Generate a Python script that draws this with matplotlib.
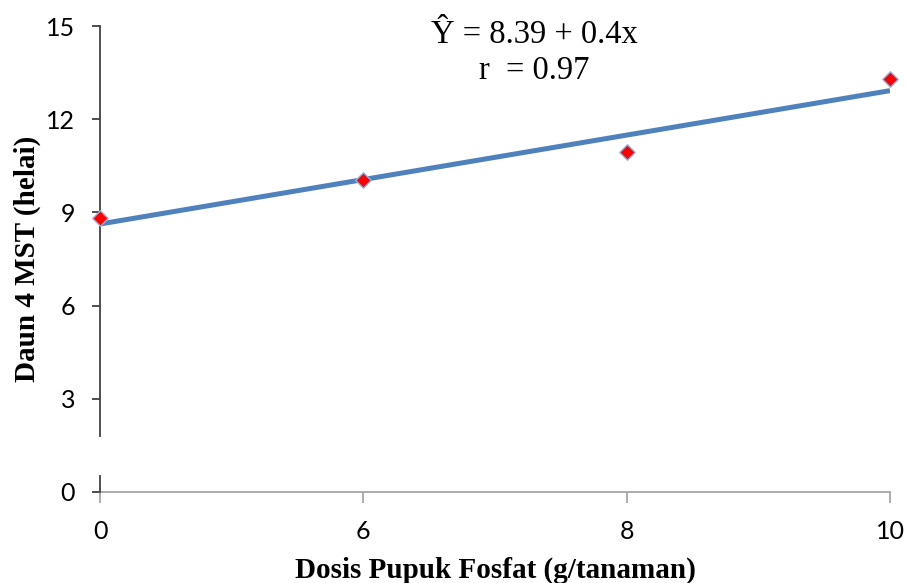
import numpy as np
import matplotlib
matplotlib.use("Agg")
import matplotlib.pyplot as plt

doses = ["0", "6", "8", "10"]
leaves = [8.82, 10.04, 10.94, 13.29]
y_ticks = [0, 3, 6, 9, 12, 15]
eq_text = "Ŷ = 8.39 + 0.4x"
r_text = "r  = 0.97"
break_low, break_high = 0.5, 1.8

fig = plt.figure(figsize=(9.06, 5.83), dpi=100)
ax = fig.add_axes([0.1104, 0.1561, 0.8719, 0.7993])

idx = np.arange(len(doses))
coef = np.polyfit(idx, leaves, 1)
trend = np.polyval(coef, idx)
ax.plot(idx, trend, color="#4F81BD", lw=3.6, solid_capstyle="butt", zorder=2)
ax.scatter(idx, leaves, marker="D", s=62, color="#FF0000", edgecolors="#8DB4E2",
           linewidths=1.0, zorder=3, clip_on=False)

ax.set_xlim(0, len(doses) - 1)
ax.set_ylim(0, 15)
ax.set_xticks(idx)
ax.set_xticklabels(doses)
ax.set_yticks(y_ticks)

for lab in ax.get_xticklabels() + ax.get_yticklabels():
    lab.set_fontfamily(["Lato", "DejaVu Sans"])
    lab.set_fontsize(18)

for s in ["top", "right"]:
    ax.spines[s].set_visible(False)
ax.spines["bottom"].set_color("#A6A6A6")
ax.spines["bottom"].set_linewidth(1.3)
ax.spines["left"].set_color("#404040")
ax.spines["left"].set_linewidth(1.3)
ax.spines["left"].set_bounds(break_high, 15)
ax.plot([0, 0], [0, break_low], color="#404040", lw=1.3, clip_on=False, zorder=4)

ax.tick_params(axis="x", direction="out", length=8, width=1.3, color="#A6A6A6", pad=12)
ax.tick_params(axis="y", direction="out", length=6, width=1.3, color="#404040", pad=12)

serif = ["Liberation Serif", "DejaVu Serif"]
ax.set_xlabel("Dosis Pupuk Fosfat (g/tanaman)", fontfamily=serif, fontweight="bold",
              fontsize=21, labelpad=10)
ax.set_ylabel("Daun 4 MST (helai)", fontfamily=serif, fontweight="bold",
              fontsize=21, labelpad=3.5)

fig.text(0.590, 0.940, eq_text, fontfamily=serif, fontsize=23.5, ha="center", va="center")
fig.text(0.590, 0.878, r_text, fontfamily=serif, fontsize=23.5, ha="center", va="center")

fig.savefig("out.png", dpi=100)
